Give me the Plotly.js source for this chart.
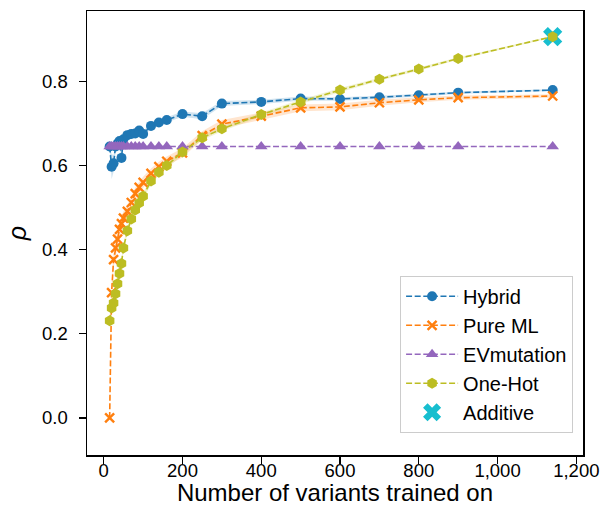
<!DOCTYPE html>
<html>
<head>
<meta charset="utf-8">
<script src="https://cdn.plot.ly/plotly-3.0.1.min.js"></script>
<style>html,body{margin:0;padding:0;background:#fff;}#chart{width:601px;height:506px;}</style>
</head>
<body>
<div id="chart"></div>
<script>
// Training set sizes
const nTrain = [15, 20, 25, 30, 35, 40, 45, 50, 60, 70, 80, 90, 100, 120, 140, 160, 200, 250, 300, 400, 500, 600, 700, 800, 900, 1140];

const hybrid = [0.645, 0.597, 0.605, 0.645, 0.652, 0.658, 0.618, 0.662, 0.672, 0.675, 0.676, 0.683, 0.675, 0.694, 0.702, 0.708, 0.722, 0.717, 0.747, 0.751, 0.759, 0.758, 0.762, 0.767, 0.773, 0.779];
const hybridSd = [0.004, 0.030, 0.020, 0.014, 0.012, 0.011, 0.014, 0.010, 0.009, 0.008, 0.008, 0.007, 0.007, 0.007, 0.006, 0.006, 0.006, 0.007, 0.006, 0.005, 0.005, 0.004, 0.004, 0.003, 0.003, 0.002];

const pureML = [0.0, 0.298, 0.376, 0.404, 0.425, 0.448, 0.462, 0.475, 0.491, 0.512, 0.533, 0.548, 0.560, 0.581, 0.597, 0.610, 0.630, 0.671, 0.698, 0.717, 0.737, 0.739, 0.749, 0.756, 0.761, 0.765];
const pureMLSd = [0.0, 0.022, 0.020, 0.019, 0.018, 0.017, 0.016, 0.016, 0.015, 0.014, 0.014, 0.013, 0.013, 0.012, 0.012, 0.011, 0.011, 0.010, 0.010, 0.009, 0.008, 0.008, 0.007, 0.006, 0.005, 0.004];

const evMutation = [0.645, 0.645, 0.645, 0.645, 0.645, 0.645, 0.645, 0.645, 0.645, 0.645, 0.645, 0.645, 0.645, 0.645, 0.645, 0.645, 0.645, 0.645, 0.645, 0.645, 0.645, 0.645, 0.645, 0.645, 0.645, 0.645];

const oneHot = [0.231, 0.261, 0.273, 0.295, 0.319, 0.343, 0.367, 0.404, 0.445, 0.473, 0.494, 0.511, 0.527, 0.563, 0.584, 0.600, 0.632, 0.666, 0.687, 0.721, 0.751, 0.779, 0.805, 0.829, 0.854, 0.906];
const oneHotSd = [0.010, 0.010, 0.010, 0.010, 0.010, 0.010, 0.010, 0.010, 0.009, 0.009, 0.009, 0.008, 0.008, 0.008, 0.007, 0.007, 0.007, 0.006, 0.006, 0.005, 0.005, 0.005, 0.004, 0.004, 0.003, 0.002];

const additiveX = [1140];
const additiveY = [0.906];

const xTicks = [0, 200, 400, 600, 800, 1000, 1200];
const yTicks = [0.0, 0.2, 0.4, 0.6, 0.8];

function band(y, sd, color) {
  const up = y.map((v, i) => v + sd[i]);
  const lo = y.map((v, i) => v - sd[i]);
  return [
    {x: nTrain, y: up, mode: 'lines', line: {width: 0, color: color}, showlegend: false, hoverinfo: 'skip'},
    {x: nTrain, y: lo, mode: 'lines', line: {width: 0, color: color}, fill: 'tonexty', fillcolor: color, showlegend: false, hoverinfo: 'skip'}
  ];
}

const DASH = '6px,2.6px';

const traces = [
  ...band(hybrid, hybridSd, 'rgba(31,119,180,0.2)'),
  ...band(pureML, pureMLSd, 'rgba(255,127,14,0.2)'),
  ...band(oneHot, oneHotSd, 'rgba(188,189,34,0.2)'),
  {x: nTrain, y: hybrid, name: 'Hybrid', mode: 'lines+markers', legendrank: 1,
   line: {color: '#1f77b4', dash: DASH, width: 1.6},
   marker: {symbol: 'circle', size: 10, color: '#1f77b4'}},
  {x: nTrain, y: pureML, name: 'Pure ML', mode: 'lines+markers', legendrank: 2,
   line: {color: '#ff7f0e', dash: DASH, width: 1.6},
   marker: {symbol: 'x-thin', size: 9, color: '#ff7f0e', line: {color: '#ff7f0e', width: 2.4}}},
  {x: nTrain, y: evMutation, name: 'EVmutation', mode: 'lines+markers', legendrank: 3,
   line: {color: '#9467bd', dash: DASH, width: 1.6},
   marker: {symbol: 'triangle-up', size: 11, color: '#9467bd'}},
  {x: additiveX, y: additiveY, name: 'Additive', mode: 'markers', legendrank: 5,
   marker: {symbol: 'x', size: 17, color: '#17becf'}},
  {x: nTrain, y: oneHot, name: 'One-Hot', mode: 'lines+markers', legendrank: 4,
   line: {color: '#bcbd22', dash: DASH, width: 1.6},
   marker: {symbol: 'hexagon', size: 11, color: '#bcbd22'}}
];

const layout = {
  width: 601, height: 506,
  margin: {l: 87, r: 18, t: 11, b: 51},
  paper_bgcolor: '#fff', plot_bgcolor: '#fff',
  font: {family: 'Liberation Sans, Arial, sans-serif', size: 18.5, color: '#000'},
  xaxis: {
    range: [-42.5, 1217], tickvals: xTicks, tickformat: ',d',
    showgrid: false, zeroline: false, showline: true, linecolor: '#000', linewidth: 1.5, mirror: true,
    ticks: 'outside', ticklen: 7, tickwidth: 1.3, tickcolor: '#000',
    tickfont: {size: 18.5}, ticklabelstandoff: -9,
    title: {text: 'Number of variants trained on', font: {size: 24}, standoff: 11}
  },
  yaxis: {
    range: [-0.088, 0.967], tickvals: yTicks, tickformat: '.1f',
    showgrid: false, zeroline: false, showline: true, linecolor: '#000', linewidth: 1.5, mirror: true,
    ticks: 'outside', ticklen: 7, tickwidth: 1.3, tickcolor: '#000',
    tickfont: {size: 18.5}, ticklabelstandoff: 7,
    title: {text: '<i>ρ</i>', font: {size: 25}, standoff: 8}
  },
  legend: {
    x: 0.98, y: 0.05, xanchor: 'right', yanchor: 'bottom',
    bgcolor: 'rgba(255,255,255,0.8)', bordercolor: '#cccccc', borderwidth: 1,
    font: {size: 20}, traceorder: 'normal', tracegroupgap: 0, itemwidth: 52
  },
  showlegend: true
};

Plotly.newPlot('chart', traces, layout, {displayModeBar: false, staticPlot: true});
</script>
</body>
</html>
